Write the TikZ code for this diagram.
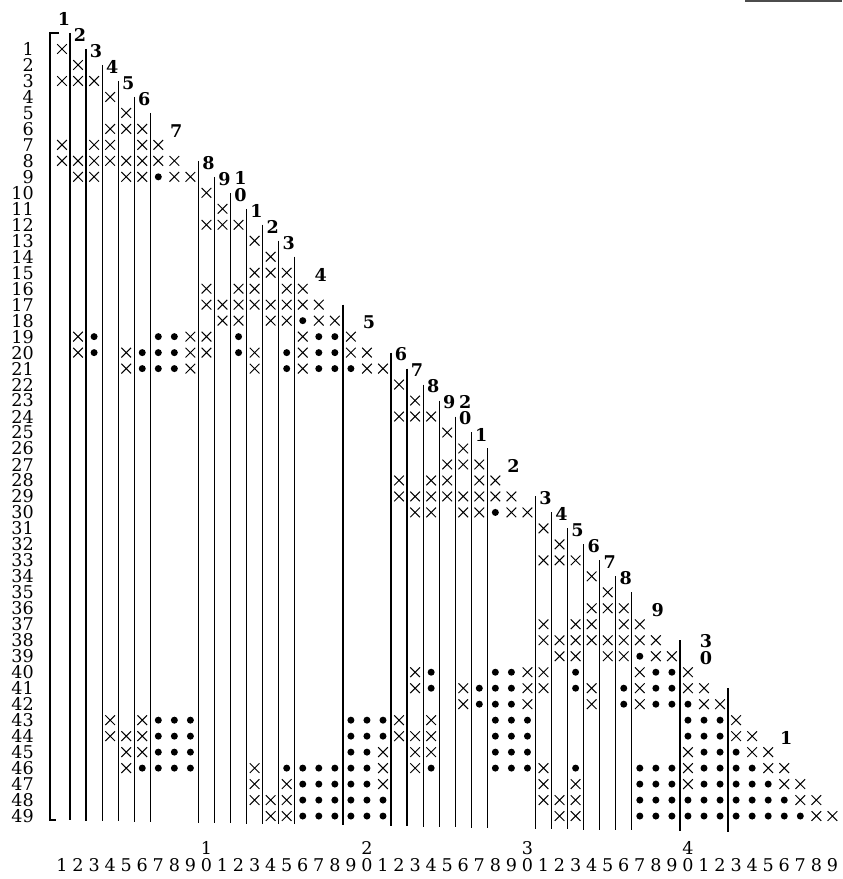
\documentclass[tikz,border=0pt]{standalone}
\usepackage{fontspec}
\setmainfont{DejaVu Serif}
\usepackage{tikz}
\usetikzlibrary{shapes.misc}

\newcommand\colx[1]{62+(#1-1)*16.05}
\newcommand\rowy[1]{49+(#1-1)*15.98}

\begin{document}
\begin{tikzpicture}[x=0.03cm, y=-0.03cm,
   font=\fontsize{15}{15}\selectfont,
   xmk/.style={cross out, draw, line width=0.85pt, minimum size=0.26cm, inner sep=0pt},
   dotmk/.style={circle, fill, minimum size=0.21cm, inner sep=0pt},
   sepline/.style={line width=1.1pt},
   snlab/.style={font=\fontsize{15}{15}\selectfont\bfseries, inner sep=0pt},
   numlab/.style={inner sep=0pt}]
  \useasboundingbox (0,0) rectangle (842,879);

  % nonzeros of the factor
  \foreach \r/\cs in {1/{1},2/{2},3/{1,2,3},4/{4},5/{5},6/{4,5,6},7/{1,3,4,6,7},
      8/{1,2,3,4,5,6,7,8},9/{2,3,5,6,8,9},10/{10},11/{11},12/{10,11,12},13/{13},
      14/{14},15/{13,14,15},16/{10,12,13,15,16},17/{10,11,12,13,14,15,16,17},
      18/{11,12,14,15,17,18},19/{2,9,10,16,19},20/{2,5,9,10,13,16,19,20},
      21/{5,9,13,16,20,21},22/{22},23/{23},24/{22,23,24},25/{25},26/{26},
      27/{25,26,27},28/{22,24,25,27,28},29/{22,23,24,25,26,27,28,29},
      30/{23,24,26,27,29,30},31/{31},32/{32},33/{31,32,33},34/{34},35/{35},
      36/{34,35,36},37/{31,33,34,36,37},38/{31,32,33,34,35,36,37,38},
      39/{32,33,35,36,38,39},40/{23,30,31,37,40},41/{23,26,30,31,34,37,40,41},
      42/{26,30,34,37,41,42},43/{4,6,22,24,43},44/{4,5,6,22,23,24,43,44},
      45/{5,6,21,23,24,40,44,45},46/{5,13,21,23,31,40,45,46},
      47/{13,15,21,31,33,40,46,47},48/{13,14,15,31,32,33,47,48},
      49/{14,15,32,33,48,49}}
    \foreach \c in \cs
      \node[xmk] (x\r-\c) at ({\colx{\c}},{\rowy{\r}}) {};

  % fill-in
  \foreach \r/\cs in {9/{7},18/{16},19/{3,7,8,12,17,18},20/{3,6,7,8,12,15,17,18},
      21/{6,7,8,15,17,18,19},30/{28},39/{37},40/{24,28,29,33,38,39},
      41/{24,27,28,29,33,36,38,39},42/{27,28,29,36,38,39,40},
      43/{7,8,9,19,20,21,28,29,30,40,41,42},44/{7,8,9,19,20,21,28,29,30,40,41,42},
      45/{7,8,9,19,20,28,29,30,41,42,43},
      46/{6,7,8,9,15,16,17,18,19,20,24,28,29,30,33,37,38,39,41,42,43,44},
      47/{16,17,18,19,20,37,38,39,41,42,43,44,45},
      48/{16,17,18,19,20,21,37,38,39,40,41,42,43,44,45,46},
      49/{16,17,18,19,20,21,37,38,39,40,41,42,43,44,45,46,47}}
    \foreach \c in \cs
      \node[dotmk] (d\r-\c) at ({\colx{\c}},{\rowy{\r}}) {};

  % supernode separators
  \draw[sepline, line width=1.5pt] (59,33) -- (50,33) -- (50,820) -- (56,820);
  \foreach \j in {2,3,4,5,6,7,10,11,12,13,14,15,16,19,22,23,24,25,26,27,28,
                  31,32,33,34,35,36,37,40,43}{
    \pgfmathsetmacro\lx{\colx{\j}-8}
    \pgfmathsetmacro\ly{\rowy{\j}-32}
    \pgfmathsetmacro\lb{820+(\lx-50)*0.018}
    \draw[sepline] (\lx,\ly) -- (\lx,\lb);
  }

  % supernode numbers
  \foreach \k/\m/\u in {1/1/1,2/2/2,3/3/3,4/4/4,5/5/5,6/6/6,7/8/7,8/10/8,9/11/9,
      10/12/0,11/13/1,12/14/2,13/15/3,14/17/4,15/20/5,16/22/6,17/23/7,18/24/8,
      19/25/9,20/26/0,21/27/1,22/29/2,23/31/3,24/32/4,25/33/5,26/34/6,27/35/7,
      28/36/8,29/38/9,30/41/0,31/46/1}
    \node[snlab] (sn\k) at ({\colx{\m}+2},{\rowy{\m}-30}) {\u};
  \node[snlab] (sn10t) at ({\colx{12}+2},{\rowy{12}-47}) {1};
  \node[snlab] (sn20t) at ({\colx{26}+2},{\rowy{26}-47}) {2};
  \node[snlab] (sn30t) at ({\colx{41}+2},{\rowy{41}-47}) {3};

  % row and column numbers
  \foreach \r in {1,...,49}
    \node[numlab, anchor=east] (row\r) at (34,{\rowy{\r}}) {\r};
  \foreach \c in {1,...,49}{
    \pgfmathtruncatemacro\u{mod(\c,10)}
    \node[numlab] (col\c) at ({\colx{\c}},865) {\u};
  }
  \foreach \c/\t in {10/1,20/2,30/3,40/4}
    \node[numlab] (col\c t) at ({\colx{\c}},848) {\t};

  \draw[line width=1.2pt, black!70] (745,1) -- (842,1);
\end{tikzpicture}
\end{document}
